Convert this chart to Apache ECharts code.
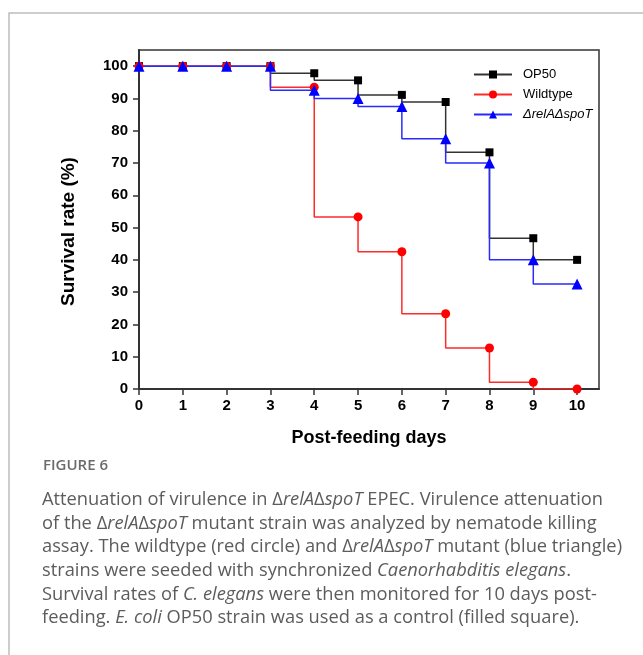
<!DOCTYPE html>
<html>
<head>
<meta charset="utf-8">
<script src="https://cdn.jsdelivr.net/npm/echarts@6/dist/echarts.min.js"></script>
<style>
  html, body { margin: 0; padding: 0; background: #fff; }
  #chart { width: 643px; height: 655px; }
</style>
</head>
<body>
<div id="chart"></div>
<script>
// survival (%), one value per day
const days = [0, 1, 2, 3, 4, 5, 6, 7, 8, 9, 10]
const op50 = [100, 100, 100, 100, 97.8, 95.6, 91.1, 88.9, 73.3, 46.7, 40]
const wildtype = [100, 100, 100, 100, 93.5, 53.3, 42.5, 23.3, 12.7, 2.1, 0]
const mutant = [100, 100, 100, 100, 92.5, 90, 87.5, 77.5, 70, 40, 32.5]
const xTicks = [0, 1, 2, 3, 4, 5, 6, 7, 8, 9, 10]
const yTicks = [0, 10, 20, 30, 40, 50, 60, 70, 80, 90, 100]

const seriesNames = ['OP50', 'Wildtype', 'ΔrelAΔspoT']

// caption lines, {i|...} = italic
const caption = [
  'Attenuation of virulence in Δ{i|relA}Δ{i|spoT} EPEC. Virulence attenuation',
  'of the Δ{i|relA}Δ{i|spoT} mutant strain was analyzed by nematode killing',
  'assay. The wildtype (red circle) and Δ{i|relA}Δ{i|spoT} mutant (blue triangle)',
  'strains were seeded with synchronized {i|Caenorhabditis elegans}.',
  'Survival rates of {i|C. elegans} were then monitored for 10 days post-',
  'feeding. {i|E. coli} OP50 strain was used as a control (filled square).'
]

const pair = arr => days.map((d, i) => [d, arr[i]])
const capFont = '"Open Sans", sans-serif'
const axisFont = 'Liberation Sans, Arial, sans-serif'

let chart = echarts.init(document.getElementById('chart'))

let graphics = [
  { // outer panel frame
    type: 'rect',
    shape: { x: 9, y: 13, width: 700, height: 700 },
    style: { fill: 'none', stroke: '#bdbdbd', lineWidth: 1.5 },
    silent: true
  },
  {
    type: 'text',
    x: 43,
    y: 466,
    style: { text: 'FIGURE 6', fill: '#6b6b6b', font: '600 15px ' + capFont, verticalAlign: 'middle' }
  }
]
caption.forEach((line, i) => {
  graphics.push({
    type: 'text',
    x: 42,
    y: 500 + i * 23.6,
    style: {
      text: line,
      fill: '#5c5c5c',
      fontSize: 18.3,
      fontFamily: capFont,
      fontWeight: 'normal',
      verticalAlign: 'middle',
      rich: {
        i: { fontStyle: 'italic', fontWeight: 'normal', fontSize: 18.3, fontFamily: capFont, fill: '#5c5c5c' }
      }
    }
  })
})

let axisText = { color: '#000', fontWeight: 'bold', fontSize: 15, fontFamily: axisFont }
let nameText = { color: '#000', fontWeight: 'bold', fontSize: 18, fontFamily: axisFont }

let option = {
  backgroundColor: '#fff',
  animation: false,
  grid: {
    left: 139,
    right: 44,
    top: 50,
    bottom: 266,
    show: true,
    borderColor: '#333',
    borderWidth: 1.5,
    backgroundColor: 'transparent'
  },
  legend: {
    orient: 'vertical',
    left: 473,
    top: 68,
    padding: 0,
    itemWidth: 38,
    itemHeight: 10,
    itemGap: 7,
    textStyle: { color: '#000', fontSize: 13, fontFamily: axisFont, padding: [0, 0, 0, 6] },
    data: [
      { name: seriesNames[0] },
      { name: seriesNames[1] },
      { name: seriesNames[2], textStyle: { fontStyle: 'italic' } }
    ]
  },
  xAxis: {
    type: 'value',
    min: 0,
    max: 10.5,
    name: 'Post-feeding days',
    nameLocation: 'middle',
    nameGap: 40,
    nameTextStyle: nameText,
    axisLine: { lineStyle: { color: '#333', width: 2 } },
    axisTick: { customValues: xTicks, length: 6, lineStyle: { color: '#333', width: 1.5 } },
    axisLabel: Object.assign({ customValues: xTicks, margin: 9 }, axisText),
    splitLine: { show: false }
  },
  yAxis: {
    type: 'value',
    min: 0,
    max: 105,
    name: 'Survival rate (%)',
    nameLocation: 'middle',
    nameGap: 61,
    nameTextStyle: Object.assign({}, nameText, { fontSize: 19, padding: [0, 24, 0, 0] }),
    axisLine: { lineStyle: { color: '#333', width: 2 } },
    axisTick: { customValues: yTicks, length: 6, lineStyle: { color: '#333', width: 1.5 } },
    axisLabel: Object.assign({ customValues: yTicks, margin: 11 }, axisText),
    splitLine: { show: false }
  },
  series: [
    {
      name: seriesNames[0],
      type: 'line',
      step: 'start',
      data: pair(op50),
      symbol: 'rect',
      symbolSize: 8,
      itemStyle: { color: '#000' },
      lineStyle: { color: '#333', width: 1.5 }
    },
    {
      name: seriesNames[1],
      type: 'line',
      step: 'start',
      data: pair(wildtype),
      symbol: 'circle',
      symbolSize: 9,
      itemStyle: { color: '#ff0000' },
      lineStyle: { color: '#ff2a2a', width: 1.5 }
    },
    {
      name: seriesNames[2],
      type: 'line',
      step: 'start',
      data: pair(mutant),
      symbol: 'triangle',
      symbolSize: 11,
      itemStyle: { color: '#0000ff' },
      lineStyle: { color: '#2a2aff', width: 1.5 }
    }
  ],
  graphic: graphics
}

chart.setOption(option)
</script>
</body>
</html>
